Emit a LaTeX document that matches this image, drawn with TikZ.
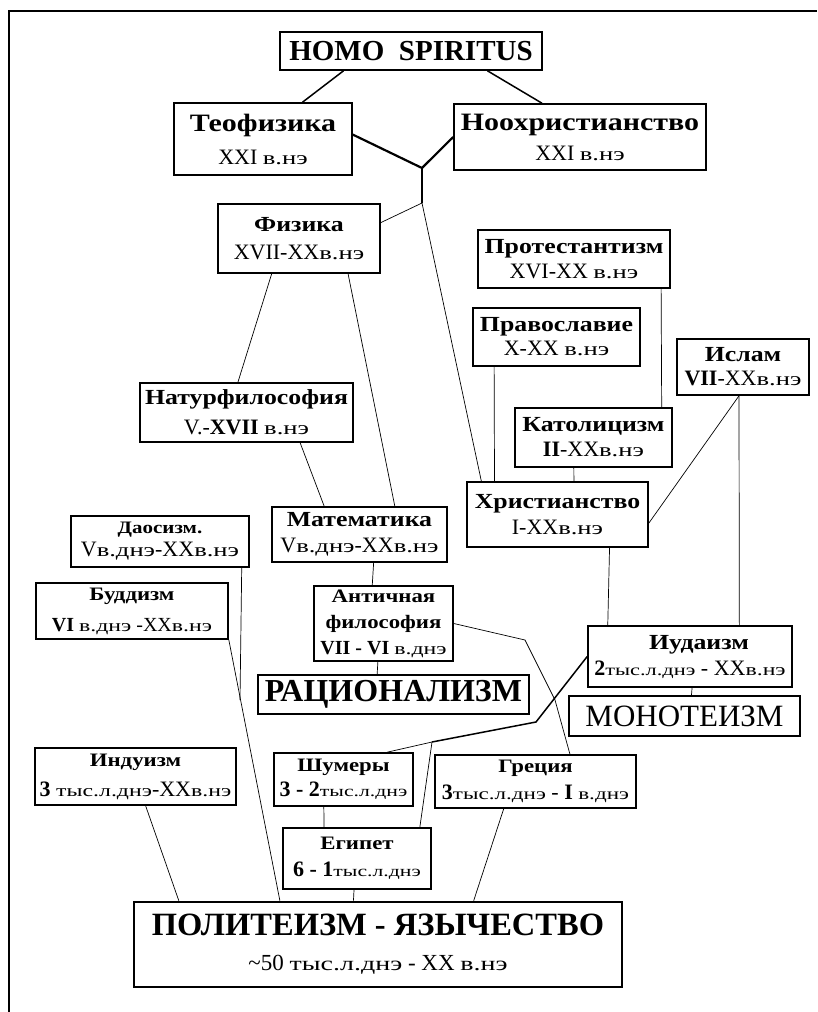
\documentclass[tikz,border=0pt]{standalone}
\usepackage{fontspec}
\usepackage{graphicx}
\setmainfont{Liberation Serif}
\newfontfamily\stretchfont{Liberation Serif}[FakeStretch=1.2]
\usetikzlibrary{calc}
\newcommand\ttl{\stretchfont\bfseries\fontsize{21.5}{21.5}\selectfont}
\newcommand\ttlb{\stretchfont\bfseries\fontsize{25}{25}\selectfont}
\newcommand\ttls{\stretchfont\bfseries\fontsize{19}{19}\selectfont}
\newcommand\dte{\rmfamily\mdseries\fontsize{22}{22}\selectfont}
\newcommand\dtes{\rmfamily\mdseries\fontsize{20}{20}\selectfont}
\newcommand\sm[2][19]{\scalebox{1.4}[1]{\rmfamily\mdseries\fontsize{#1}{#1}\selectfont #2}}
\tikzset{
  bx/.style={draw, line width=1.6pt, fill=white, inner sep=0pt, align=center},
  bs/.style={font=\fontsize{20}{#1}\selectfont},
  ln/.style={line width=0.7pt},
  tk/.style={line width=2.2pt},
  md/.style={line width=1.5pt},
  frame/.style={line width=1.6pt}
}
\begin{document}
\begin{tikzpicture}[x=1pt,y=-1pt]
\useasboundingbox (0,0) rectangle (817,1012);
\coordinate (f1) at (9,1012);
\coordinate (f2) at (9,11);
\coordinate (f3) at (817,11);
\draw[frame] (f1) -- (f2) -- (f3);

% nodes
\node[bx, minimum width=262pt, minimum height=38pt, font=\fontsize{29}{30}\selectfont\bfseries] (homo) at (411,51) {HOMO\ \ SPIRITUS};
\node[bx, bs=33, minimum width=178pt, minimum height=72pt] (teo) at (263,139) {{\ttlb Теофизика}\\{\dte XXI \sm{в.нэ}}};
\node[bx, bs=30, minimum width=252pt, minimum height=66pt] (noo) at (580,137) {{\ttlb Ноохристианство}\\{\dte XXI \sm{в.нэ}}};
\node[bx, bs=28, minimum width=162pt, minimum height=69pt] (fiz) at (299,238.5) {{\ttl Физика}\\{\dte XVII-XX\sm{в.нэ}}};
\node[bx, bs=30, minimum width=213pt, minimum height=59pt] (nat) at (246.5,412.5) {{\ttl Натурфилософия}\\{\dte V.-\textbf{XVII} \sm{в.нэ}}};
\node[bx, bs=25, minimum width=192pt, minimum height=58pt] (prot) at (574,259) {{\ttl Протестантизм}\\{\dte XVI-XX \sm{в.нэ}}};
\node[bx, bs=24, minimum width=167pt, minimum height=58pt] (prav) at (556.5,337) {{\ttl Православие}\\{\dte X-XX \sm{в.нэ}}};
\node[bx, bs=24, minimum width=132pt, minimum height=56pt] (isl) at (743,367) {{\ttl Ислам}\\{\dte \textbf{VII}-XX\sm{в.нэ}}};
\node[bx, bs=25, minimum width=157pt, minimum height=59pt] (kat) at (593.5,437.5) {{\ttl Католицизм}\\{\dte \textbf{II}-XX\sm{в.нэ}}};
\node[bx, bs=26, minimum width=181pt, minimum height=65pt] (hris) at (557.5,514.5) {{\ttl Христианство}\\{\dte I-XX\sm{в.нэ}}};
\node[bx, bs=26, minimum width=175pt, minimum height=55pt] (mat) at (359.5,534.5) {{\ttl Математика}\\{\dte V\sm{в.днэ}-XX\sm{в.нэ}}};
\node[bx, bs=23, minimum width=178pt, minimum height=51pt] (dao) at (160,541.5) {{\stretchfont\bfseries\fontsize{17.5}{17.5}\selectfont Даосизм.}\\{\dte V\sm{в.днэ}-XX\sm{в.нэ}}};
\node[bx, bs=31, minimum width=192pt, minimum height=56pt] (bud) at (132,611) {{\ttls Буддизм}\\{\dtes \textbf{VI} \sm[17]{в.днэ} -XX\sm[17]{в.нэ}}};
\node[bx, bs=26, minimum width=139pt, minimum height=75pt] (ant) at (383.5,623.5) {{\ttls Античная}\\{\ttls философия}\\{\dtes \textbf{VII - VI} \sm[17]{в.днэ}}};
\node[bx, minimum width=271pt, minimum height=39pt, font=\fontsize{32}{33}\selectfont\bfseries] (rac) at (393.5,694.5) {РАЦИОНАЛИЗМ};
\node[bx, bs=26, minimum width=204pt, minimum height=61pt] (iud) at (690,656.5) {{\ttl \hspace*{18pt}Иудаизм}\\{\dte \textbf{2}\sm[16]{тыс.л.днэ} - XX\sm[17]{в.нэ}}};
\node[bx, minimum width=231pt, minimum height=40pt, font=\fontsize{31}{32}\selectfont] (mono) at (684.5,716) {МОНОТЕИЗМ};
\node[bx, bs=30, minimum width=201pt, minimum height=57pt] (ind) at (135.5,776.5) {{\ttls Индуизм}\\{\dte \textbf{3} \sm[17]{тыс.л.днэ}-XX\sm[17]{в.нэ}}};
\node[bx, bs=25, minimum width=139pt, minimum height=53pt] (shum) at (343.5,779.5) {{\ttls Шумеры}\\{\dte \textbf{3 - 2}\sm[15.5]{тыс.л.днэ}}};
\node[bx, bs=27, minimum width=201pt, minimum height=53pt] (grec) at (535.5,781.5) {{\ttls Греция}\\{\dte \textbf{3}\sm[16.5]{тыс.л.днэ} - \textbf{I} \sm[16.5]{в.днэ}}};
\node[bx, bs=27, minimum width=148pt, minimum height=61pt] (egip) at (357,858.5) {{\ttls Египет}\\{\dte \textbf{6 - 1}\sm[15.5]{тыс.л.днэ}}};
\node[bx, bs=35, line width=2.6pt, minimum width=488pt, minimum height=85pt] (pol) at (378,944.5) {{\fontsize{32.5}{33}\selectfont\bfseries ПОЛИТЕИЗМ - ЯЗЫЧЕСТВО}\\{\fontsize{23}{24}\selectfont \textasciitilde 50 \sm[20]{тыс.л.днэ} - XX \sm[20]{в.нэ}}};

% junctions
\coordinate (j1) at (422,168);
\coordinate (j2) at (422,203);
\coordinate (j3) at (432,742);
\coordinate (j4) at (240,700);
\coordinate (k1) at (536,722);
\coordinate (g1) at (525,640);
\coordinate (g2) at (555,700);

% connectors
\draw[md] ($(homo.south west)!0.244!(homo.south east)$) -- ($(teo.north west)!0.72!(teo.north east)$);
\draw[md] ($(homo.south west)!0.79!(homo.south east)$) -- ($(noo.north west)!0.35!(noo.north east)$);
\draw[tk] ($(teo.north east)!0.44!(teo.south east)$) -- (j1);
\draw[tk] (noo.west) -- (j1);
\draw[tk] (j1) -- (j2);
\draw[ln] (j2) -- ($(fiz.north east)!0.275!(fiz.south east)$);
\draw[ln] (j2) -- ($(hris.north west)!0.083!(hris.north east)$);
\draw[ln] ($(fiz.south west)!0.333!(fiz.south east)$) -- ($(nat.north west)!0.46!(nat.north east)$);
\draw[ln] ($(fiz.south west)!0.80!(fiz.south east)$) -- ($(mat.north west)!0.70!(mat.north east)$);
\draw[ln] ($(nat.south west)!0.75!(nat.south east)$) -- ($(mat.north west)!0.30!(mat.north east)$);
\draw[ln] ($(prot.south west)!0.95!(prot.south east)$) -- ($(kat.north west)!0.93!(kat.north east)$);
\draw[ln] ($(prav.south west)!0.13!(prav.south east)$) -- ($(hris.north west)!0.155!(hris.north east)$);
\draw[ln] ($(kat.south west)!0.376!(kat.south east)$) -- ($(hris.north west)!0.59!(hris.north east)$);
\draw[ln] ($(isl.south west)!0.47!(isl.south east)$) -- ($(hris.north east)!0.63!(hris.south east)$);
\draw[ln] ($(isl.south west)!0.47!(isl.south east)$) -- ($(iud.north west)!0.74!(iud.north east)$);
\draw[ln] ($(hris.south west)!0.785!(hris.south east)$) -- ($(iud.north west)!0.10!(iud.north east)$);
\draw[ln] ($(iud.south west)!0.51!(iud.south east)$) -- ($(mono.north west)!0.53!(mono.north east)$);
\draw[md] (iud.west) -- (k1) -- (j3);
\draw[ln] (j3) -- ($(shum.north west)!0.81!(shum.north east)$);
\draw[ln] (j3) -- ($(egip.north west)!0.92!(egip.north east)$);
\draw[ln] (ant.east) -- (g1) -- (g2) -- ($(grec.north west)!0.67!(grec.north east)$);
\draw[ln] ($(mat.south west)!0.58!(mat.south east)$) -- ($(ant.north west)!0.42!(ant.north east)$);
\draw[ln] ($(ant.south west)!0.46!(ant.south east)$) -- ($(rac.north west)!0.44!(rac.north east)$);
\draw[ln] ($(dao.south west)!0.955!(dao.south east)$) -- (j4);
\draw[ln] (bud.south east) -- ($(pol.north west)!0.30!(pol.north east)$);
\draw[ln] ($(ind.south west)!0.55!(ind.south east)$) -- ($(pol.north west)!0.094!(pol.north east)$);
\draw[ln] ($(shum.south west)!0.36!(shum.south east)$) -- ($(egip.north west)!0.28!(egip.north east)$);
\draw[ln] ($(egip.south west)!0.48!(egip.south east)$) -- ($(pol.north west)!0.45!(pol.north east)$);
\draw[ln] ($(grec.south west)!0.343!(grec.south east)$) -- ($(pol.north west)!0.695!(pol.north east)$);
\end{tikzpicture}
\end{document}
